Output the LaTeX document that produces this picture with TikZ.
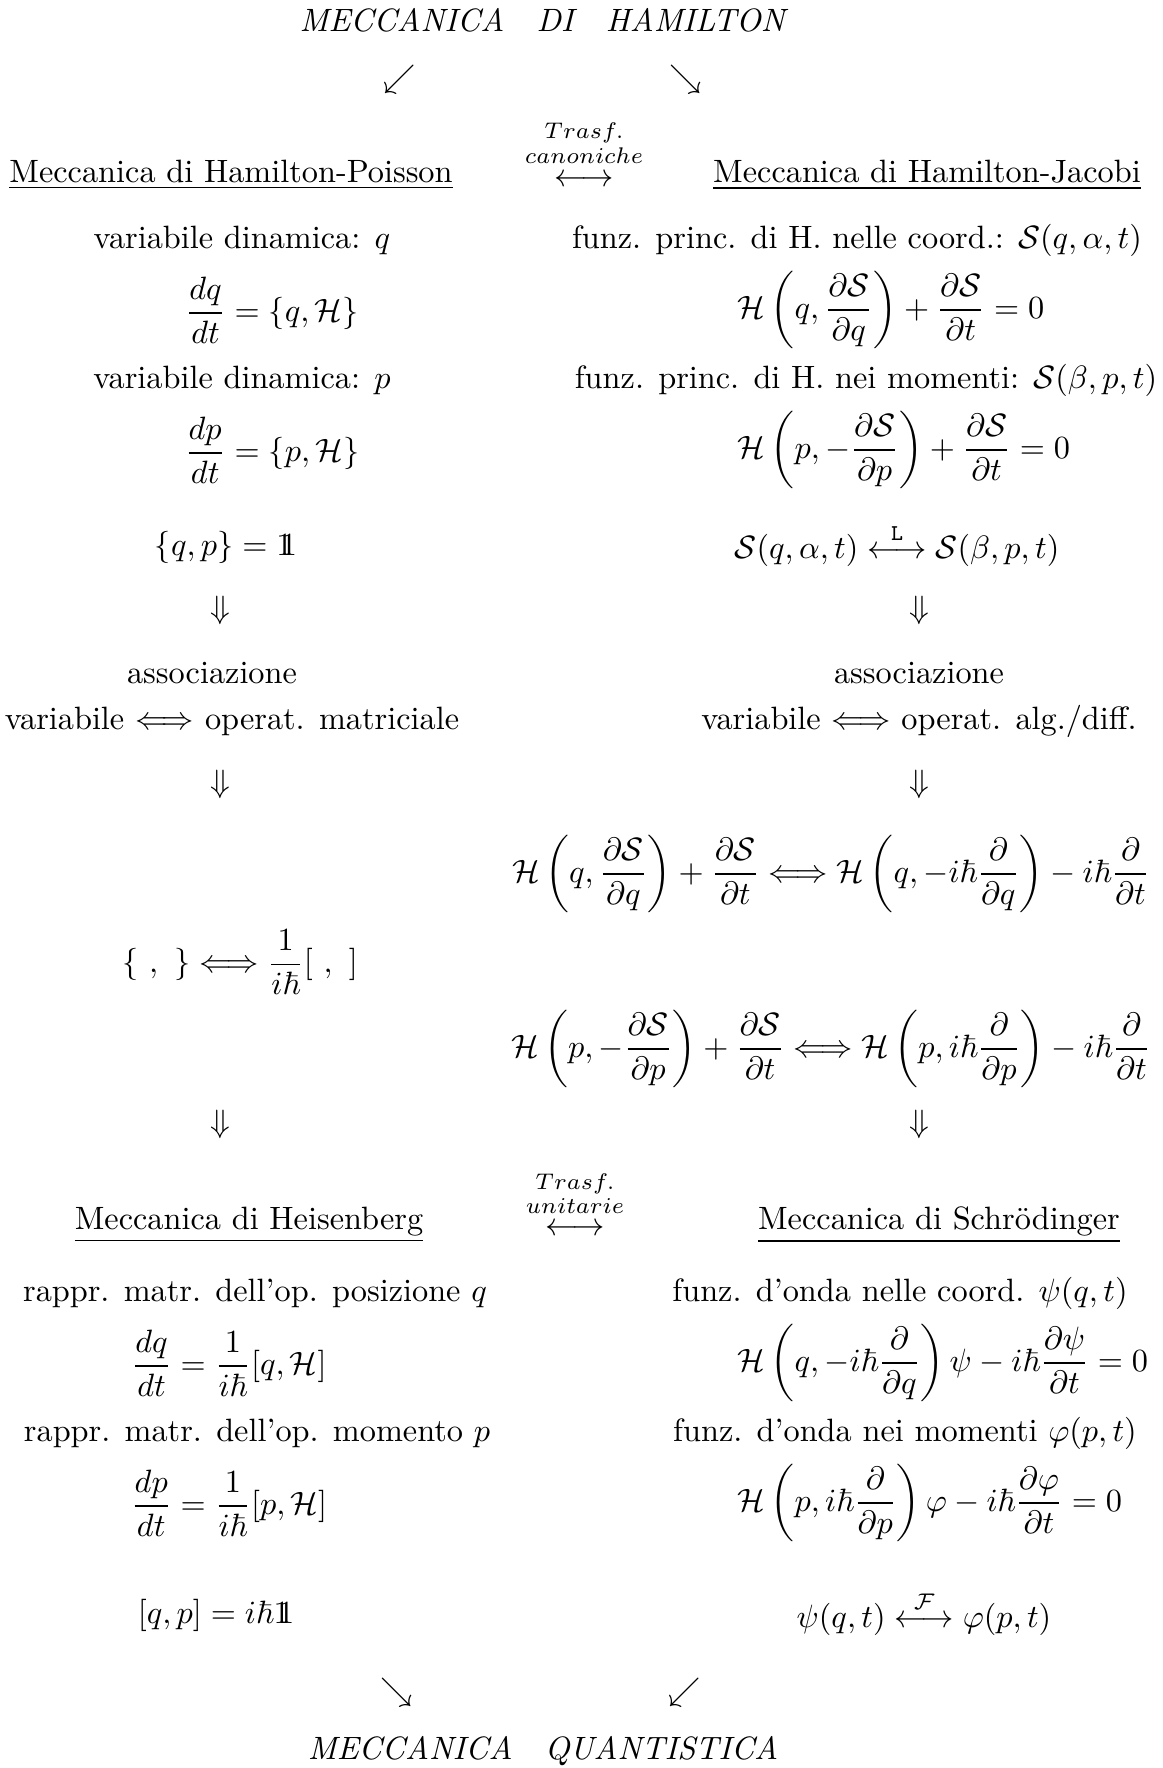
\documentclass[tikz,border=0pt]{standalone}
\usepackage{amsmath}
\usepackage{amssymb}
\newcommand{\Sc}{\mathcal{S}}
\newcommand{\Hc}{\mathcal{H}}
\newcommand{\uno}{\mathrm{1}\mkern-6.5mu\mathrm{1}}
\begin{document}
\begin{tikzpicture}[x=0.3096pt, y=-0.3096pt,
    every node/.style={inner sep=0pt, anchor=center},
    testa/.style={font=\normalsize},
    trasf/.style={font=\scriptsize}]
    % --- dimensioni del foglio (in pixel del riferimento) ---
    \useasboundingbox (0,0) rectangle (1163,1768);
    % colonna sinistra e destra delle frecce verticali
    \def\xL{220}
    \def\xR{919}

    % --- titolo e frecce in alto ---
    \node (hamilton) at (544,20) {\textit{MECCANICA\quad DI\quad HAMILTON}};
    \node (swA) at (400,79) {$\swarrow$};
    \node (seA) at (686,79) {$\searrow$};

    % --- intestazioni Hamilton-Poisson / Hamilton-Jacobi ---
    \node[testa] (poisson) at (231,175) {\underline{Meccanica di Hamilton-Poisson}};
    \node[testa] (jacobi) at (927,175) {\underline{Meccanica di Hamilton-Jacobi}};
    \node[trasf] (trasfA) at (584,133) {$Trasf.$};
    \node[trasf] (canon) at (584,156) {$canoniche$};
    \node (lrA) at (584,181) {$\longleftrightarrow$};

    % --- colonna di Poisson ---
    \node (varq) at (242,240) {variabile dinamica: $q$};
    \node (eqq) at (272,310) {$\displaystyle\frac{dq}{dt}=\{q,\Hc\}$};
    \node (varp) at (242,380) {variabile dinamica: $p$};
    \node (eqp) at (272,450) {$\displaystyle\frac{dp}{dt}=\{p,\Hc\}$};
    \node (pois) at (226,547) {$\{q,p\}=\uno$};

    % --- colonna di Jacobi ---
    \node (funzq) at (857,240) {funz. princ. di H. nelle coord.: $\Sc(q,\alpha,t)$};
    \node (hjq) at (891,310) {$\displaystyle\Hc\left(q,\frac{\partial\Sc}{\partial q}\right)+\frac{\partial\Sc}{\partial t}=0$};
    \node (funzp) at (866,380) {funz. princ. di H. nei momenti: $\Sc(\beta,p,t)$};
    \node (hjp) at (904,450) {$\displaystyle\Hc\left(p,-\frac{\partial\Sc}{\partial p}\right)+\frac{\partial\Sc}{\partial t}=0$};
    \node (legendre) at (897,545) {$\Sc(q,\alpha,t)\stackrel{\mathtt{L}}{\longleftrightarrow}\Sc(\beta,p,t)$};

    % --- associazione ---
    \node (dA) at (\xL,610) {$\Downarrow$};
    \node (dB) at (\xR,610) {$\Downarrow$};
    \node (assL) at (212,673) {associazione};
    \node (assR) at (919,673) {associazione};
    \node (matr) at (232,721) {variabile $\Longleftrightarrow$ operat. matriciale};
    \node (diff) at (919,721) {variabile $\Longleftrightarrow$ operat. alg./diff.};
    \node (dC) at (\xL,784) {$\Downarrow$};
    \node (dD) at (\xR,784) {$\Downarrow$};

    % --- regole di quantizzazione ---
    \node (quantq) at (831,874) {$\displaystyle\Hc\left(q,\frac{\partial\Sc}{\partial q}\right)+\frac{\partial\Sc}{\partial t}\Longleftrightarrow\Hc\left(q,-i\hbar\frac{\partial}{\partial q}\right)-i\hbar\frac{\partial}{\partial t}$};
    \node (parent) at (240,962) {$\displaystyle\{\ ,\ \}\Longleftrightarrow\frac{1}{i\hbar}[\ ,\ ]$};
    \node (quantp) at (831,1049) {$\displaystyle\Hc\left(p,-\frac{\partial\Sc}{\partial p}\right)+\frac{\partial\Sc}{\partial t}\Longleftrightarrow\Hc\left(p,i\hbar\frac{\partial}{\partial p}\right)-i\hbar\frac{\partial}{\partial t}$};
    \node (dE) at (\xL,1124) {$\Downarrow$};
    \node (dF) at (\xR,1124) {$\Downarrow$};

    % --- intestazioni Heisenberg / Schroedinger ---
    \node[testa] (heis) at (249,1225) {\underline{Meccanica di Heisenberg}};
    \node[testa] (schr) at (939,1225) {\underline{Meccanica di Schr\"odinger}};
    \node[trasf] (trasfB) at (575,1184) {$Trasf.$};
    \node[trasf] (unit) at (575,1206) {$unitarie$};
    \node (lrB) at (575,1230) {$\longleftrightarrow$};

    % --- colonna di Heisenberg ---
    \node (posq) at (255,1293) {rappr. matr. dell'op. posizione $q$};
    \node (heq) at (229,1363) {$\displaystyle\frac{dq}{dt}=\frac{1}{i\hbar}[q,\Hc]$};
    \node (momp) at (257,1433) {rappr. matr. dell'op. momento $p$};
    \node (hep) at (229,1503) {$\displaystyle\frac{dp}{dt}=\frac{1}{i\hbar}[p,\Hc]$};
    \node (comm) at (216,1615) {$[q,p]=i\hbar\uno$};

    % --- colonna di Schroedinger ---
    \node (ondaq) at (900,1293) {funz. d'onda nelle coord. $\psi(q,t)$};
    \node (scq) at (943,1363) {$\displaystyle\Hc\left(q,-i\hbar\frac{\partial}{\partial q}\right)\psi-i\hbar\frac{\partial\psi}{\partial t}=0$};
    \node (ondap) at (905,1433) {funz. d'onda nei momenti $\varphi(p,t)$};
    \node (scp) at (930,1503) {$\displaystyle\Hc\left(p,i\hbar\frac{\partial}{\partial p}\right)\varphi-i\hbar\frac{\partial\varphi}{\partial t}=0$};
    \node (fourier) at (924,1613) {$\psi(q,t)\stackrel{\mathcal{F}}{\longleftrightarrow}\varphi(p,t)$};

    % --- frecce in basso e titolo finale ---
    \node (seB) at (397,1692) {$\searrow$};
    \node (swB) at (685,1692) {$\swarrow$};
    \node (quant) at (543,1751) {\textit{MECCANICA\quad QUANTISTICA}};
\end{tikzpicture}
\end{document}
